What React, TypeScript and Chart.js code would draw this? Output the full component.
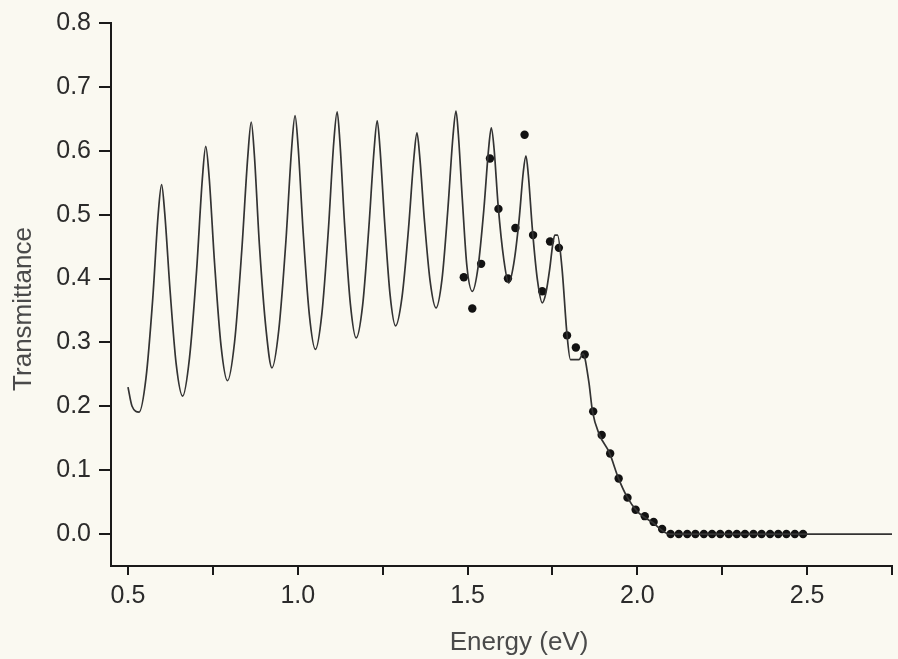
import React, { useEffect, useRef } from 'react';
import { Chart, registerables } from 'chart.js';

Chart.register(...registerables);

// Fitted (calculated) transmittance curve
const fitEnergy = [
  0.500, 0.512, 0.533, 0.553, 0.573, 0.589, 0.599, 0.608, 0.624, 0.642,
  0.661, 0.681, 0.702, 0.719, 0.729, 0.739, 0.755, 0.774,
  0.793, 0.814, 0.835, 0.853, 0.863, 0.872, 0.887, 0.907,
  0.924, 0.944, 0.965, 0.982, 0.992, 1.001, 1.016, 1.034,
  1.052, 1.071, 1.090, 1.106, 1.116, 1.124, 1.138, 1.155,
  1.172, 1.191, 1.209, 1.225, 1.234, 1.242, 1.256, 1.272,
  1.288, 1.307, 1.326, 1.342, 1.351, 1.359, 1.373, 1.390,
  1.407, 1.425, 1.442, 1.457, 1.466, 1.473, 1.485, 1.498,
  1.514, 1.531, 1.548, 1.562, 1.570, 1.578, 1.590, 1.607,
  1.621, 1.636, 1.652, 1.664, 1.672, 1.679, 1.691, 1.706,
  1.720, 1.731, 1.742, 1.751, 1.757, 1.765, 1.778, 1.793, 1.803, 1.828,
  1.840, 1.857, 1.868, 1.888, 1.918, 1.944, 1.969, 1.999, 2.045, 2.095, 2.750,
];
const fitTransmittance = [
  0.230, 0.200, 0.191, 0.244, 0.369, 0.501, 0.547, 0.504, 0.381, 0.266,
  0.216, 0.275, 0.412, 0.556, 0.607, 0.559, 0.424, 0.295,
  0.240, 0.301, 0.443, 0.592, 0.645, 0.595, 0.453, 0.318,
  0.260, 0.319, 0.458, 0.604, 0.655, 0.607, 0.472, 0.344,
  0.289, 0.345, 0.475, 0.613, 0.661, 0.615, 0.484, 0.360,
  0.307, 0.358, 0.477, 0.603, 0.647, 0.605, 0.487, 0.374,
  0.326, 0.371, 0.477, 0.589, 0.628, 0.592, 0.491, 0.395,
  0.354, 0.400, 0.508, 0.622, 0.662, 0.625, 0.521, 0.420,
  0.380, 0.418, 0.508, 0.603, 0.636, 0.604, 0.515, 0.429,
  0.393, 0.423, 0.493, 0.566, 0.592, 0.562, 0.477, 0.397,
  0.362, 0.378, 0.415, 0.454, 0.468, 0.468, 0.417, 0.312, 0.273, 0.273,
  0.282, 0.239, 0.192, 0.156, 0.127, 0.088, 0.059, 0.036, 0.018, 0.000, 0.000,
];

// Measured points
const dotEnergy = [
  1.489, 1.514, 1.540, 1.566, 1.591, 1.619, 1.641, 1.668, 1.693, 1.720,
  1.743, 1.769, 1.793, 1.819, 1.845, 1.870, 1.895, 1.920, 1.945, 1.971,
  1.995, 2.022, 2.048, 2.073, 2.098, 2.122, 2.147, 2.171, 2.196, 2.220,
  2.244, 2.269, 2.293, 2.317, 2.342, 2.366, 2.391, 2.415, 2.439, 2.464, 2.488,
];
const dotTransmittance = [
  0.402, 0.353, 0.423, 0.588, 0.509, 0.400, 0.479, 0.625, 0.468, 0.380,
  0.458, 0.448, 0.311, 0.292, 0.281, 0.192, 0.155, 0.126, 0.087, 0.057,
  0.038, 0.028, 0.019, 0.008, 0.000, 0.000, 0.000, 0.000, 0.000, 0.000,
  0.000, 0.000, 0.000, 0.000, 0.000, 0.000, 0.000, 0.000, 0.000, 0.000, 0.000,
];

const xTickValues = [0.5, 0.75, 1.0, 1.25, 1.5, 1.75, 2.0, 2.25, 2.5, 2.75];
const xTickLabels = ['0.5', '', '1.0', '', '1.5', '', '2.0', '', '2.5', ''];
const yTickValues = [0, 0.1, 0.2, 0.3, 0.4, 0.5, 0.6, 0.7, 0.8];
const yTickLabels = ['0.0', '0.1', '0.2', '0.3', '0.4', '0.5', '0.6', '0.7', '0.8'];
const xTitle = 'Energy (eV)';
const yTitle = 'Transmittance';

const FONT = '"Liberation Sans", Arial, Helvetica, sans-serif';
const BG = '#faf9f1';

const titlePlugin = {
  id: 'paperTitles',
  afterDraw(chart: any) {
    const ctx = chart.ctx;
    ctx.save();
    ctx.fillStyle = '#4a4a4a';
    ctx.font = `26px ${FONT}`;
    ctx.textAlign = 'center';
    ctx.textBaseline = 'alphabetic';
    ctx.fillText(xTitle, 519, 650);
    ctx.translate(31, 309);
    ctx.rotate(-Math.PI / 2);
    ctx.fillText(yTitle, 0, 0);
    ctx.restore();
  },
};

export default function App() {
  const canvasRef = useRef<HTMLCanvasElement | null>(null);

  useEffect(() => {
    document.body.style.margin = '0';
    document.body.style.background = BG;
    const canvas = canvasRef.current;
    if (!canvas) return;
    const chart = new Chart(canvas, {
      type: 'scatter',
      data: {
        datasets: [
          {
            label: 'fit',
            data: fitEnergy.map((x, i) => ({ x, y: fitTransmittance[i] })),
            showLine: true,
            borderColor: '#333333',
            borderWidth: 1.7,
            pointRadius: 0,
            cubicInterpolationMode: 'monotone',
            fill: false,
          },
          {
            label: 'measured',
            data: dotEnergy.map((x, i) => ({ x, y: dotTransmittance[i] })),
            showLine: false,
            pointRadius: 4.2,
            pointBackgroundColor: '#121212',
            pointBorderWidth: 0,
          },
        ],
      },
      options: {
        animation: false,
        responsive: false,
        events: [],
        layout: { padding: { top: 22, right: 2, left: 0, bottom: 0 } },
        plugins: {
          legend: { display: false },
          tooltip: { enabled: false },
          title: { display: false },
        },
        scales: {
          x: {
            type: 'linear',
            min: 0.45,
            max: 2.75,
            afterBuildTicks: (scale: any) => {
              scale.ticks = xTickValues.map((v) => ({ value: v }));
            },
            afterFit: (scale: any) => {
              scale.height = 93;
            },
            ticks: {
              autoSkip: false,
              maxRotation: 0,
              padding: 6,
              color: '#2b2b2b',
              font: { family: FONT, size: 25 },
              callback: (v: any) => {
                const i = xTickValues.findIndex((t) => Math.abs(t - Number(v)) < 1e-6);
                return i >= 0 ? xTickLabels[i] : '';
              },
            },
            grid: {
              drawOnChartArea: false,
              drawTicks: true,
              tickLength: 9,
              color: '#1a1a1a',
              lineWidth: 2,
            },
            border: { display: true, color: '#1a1a1a', width: 2 },
          },
          y: {
            type: 'linear',
            min: -0.05,
            max: 0.8,
            afterBuildTicks: (scale: any) => {
              scale.ticks = yTickValues.map((v) => ({ value: v }));
            },
            afterFit: (scale: any) => {
              scale.width = 111;
            },
            ticks: {
              autoSkip: false,
              padding: 8,
              color: '#2b2b2b',
              font: { family: FONT, size: 25 },
              callback: (v: any) => {
                const i = yTickValues.findIndex((t) => Math.abs(t - Number(v)) < 1e-6);
                return i >= 0 ? yTickLabels[i] : '';
              },
            },
            grid: {
              drawOnChartArea: false,
              drawTicks: true,
              tickLength: 12,
              color: '#1a1a1a',
              lineWidth: 2,
            },
            border: { display: true, color: '#1a1a1a', width: 2 },
          },
        },
      },
      plugins: [titlePlugin],
    });
    return () => chart.destroy();
  }, []);

  return (
    <div style={{ position: 'absolute', left: 0, top: 0, width: 898, height: 659, background: BG }}>
      <canvas ref={canvasRef} width={898} height={659} style={{ display: 'block' }} />
    </div>
  );
}
